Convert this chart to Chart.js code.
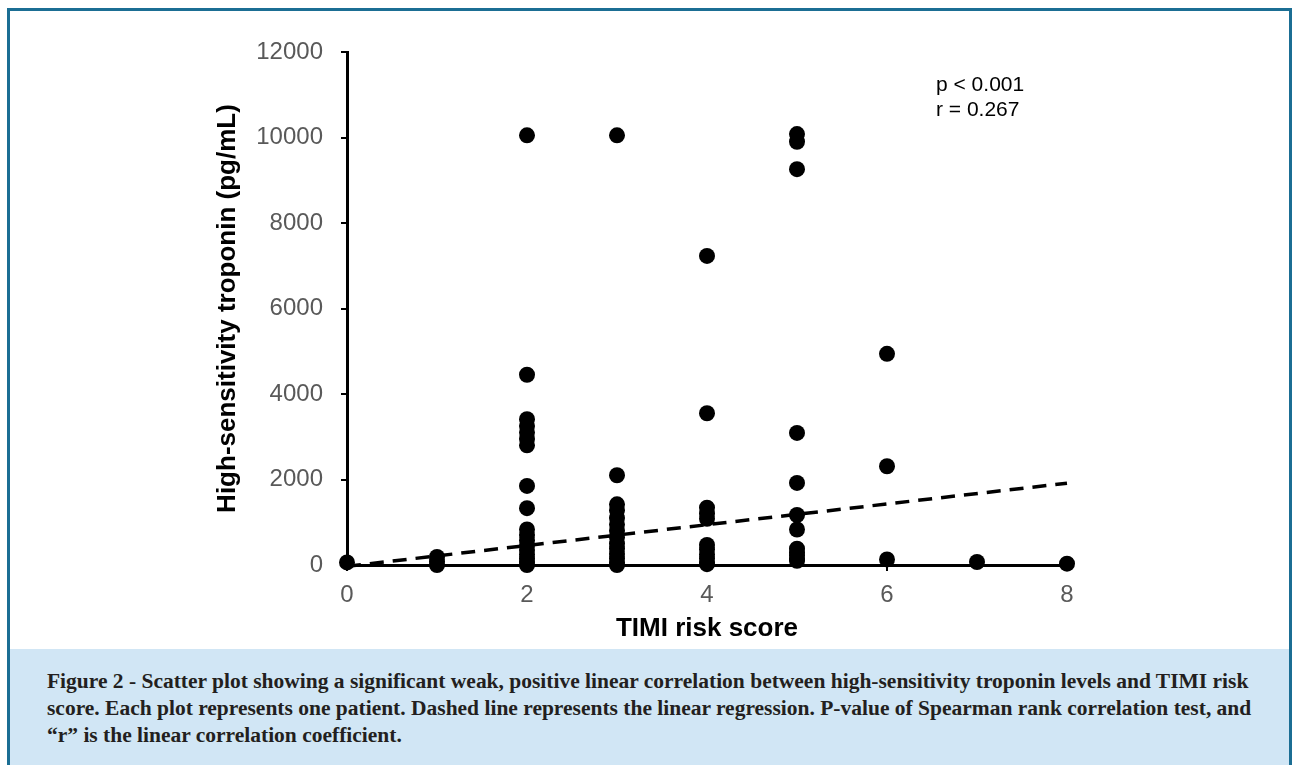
<!DOCTYPE html>
<html><head><meta charset="utf-8">
<script src="https://cdn.jsdelivr.net/npm/chart.js@4.4.1/dist/chart.umd.min.js"></script>
<style>
html,body{margin:0;padding:0;background:#fff;width:1296px;height:765px;overflow:hidden;}
#frame{position:absolute;left:7px;top:8px;width:1279px;height:800px;border:3px solid #1b6e94;border-bottom:none;}
#band{position:absolute;left:10px;top:649px;width:1279px;height:116px;background:#d1e6f5;}
#chartWrap{position:absolute;left:0;top:0;width:1296px;height:648px;}
.ann{position:absolute;left:936px;top:71px;font:21px/25px "Liberation Sans",Arial,sans-serif;color:#000;}
#caption{position:absolute;left:47px;top:668px;font-family:"Liberation Serif",serif;font-weight:bold;color:#231f20;}
#caption div{white-space:nowrap;height:27px;line-height:27px;}
</style>
</head><body>
<div id="frame"></div>
<div id="band"></div>
<div id="chartWrap"><canvas id="c" width="1296" height="648"></canvas></div>
<div class="ann">p &lt; 0.001<br>r = 0.267</div>
<div id="caption">
<div id="cap1">Figure 2 - Scatter plot showing a significant weak, positive linear correlation between high-sensitivity troponin levels and TIMI risk</div>
<div id="cap2">score. Each plot represents one patient. Dashed line represents the linear regression. P-value of Spearman rank correlation test, and</div>
<div id="cap3">“r” is the linear correlation coefficient.</div>
</div>
<script>
// TIMI risk score values and the troponin readings (pg/mL) of the patients at each score
const timiScores = [0, 1, 2, 3, 4, 5, 6, 7, 8];
const troponinScore0 = [60];
const troponinScore1 = [190, 80, 0];
const troponinScore2 = [10050, 4450, 3410, 3250, 3100, 2950, 2800, 1850, 1330, 830, 700, 580, 460, 350, 250, 150, 70, 0];
const troponinScore3 = [10050, 2100, 1420, 1280, 1100, 950, 800, 650, 500, 380, 260, 150, 60, 0];
const troponinScore4 = [7230, 3550, 1340, 1200, 1080, 470, 360, 250, 150, 60, 20];
const troponinScore5 = [10080, 9900, 9260, 3090, 1920, 1170, 830, 380, 300, 220, 140, 100];
const troponinScore6 = [4940, 2310, 130];
const troponinScore7 = [70];
const troponinScore8 = [30];
const troponinGroups = [troponinScore0, troponinScore1, troponinScore2, troponinScore3, troponinScore4,
                        troponinScore5, troponinScore6, troponinScore7, troponinScore8];
// Linear regression (dashed line)
const regressionIntercept = -30;
const regressionSlope = 243;
const regressionX = [0, 8];
// Axis ticks
const xTickLabels = [0, 2, 4, 6, 8];
const yTickLabels = [0, 2000, 4000, 6000, 8000, 10000, 12000];

const scatterPoints = [];
timiScores.forEach((s, i) => troponinGroups[i].forEach(v => scatterPoints.push({x: s, y: v})));
const regressionPoints = regressionX.map(x => ({x: x, y: regressionIntercept + regressionSlope * x}));

const tickFont = {family: '"Liberation Sans", Arial, sans-serif', size: 24};
const titleFont = {family: '"Liberation Sans", Arial, sans-serif', size: 26, weight: 'bold'};

new Chart(document.getElementById('c'), {
  type: 'scatter',
  data: {
    datasets: [
      {type: 'scatter', data: scatterPoints, pointRadius: 8, pointHoverRadius: 8,
       backgroundColor: '#000', borderColor: '#000', borderWidth: 0, clip: false, order: 2},
      {type: 'line', data: regressionPoints, borderColor: '#000', borderWidth: 3.5,
       borderDash: [14, 9], pointRadius: 0, fill: false, clip: false, order: 1}
    ]
  },
  options: {
    responsive: false, animation: false, devicePixelRatio: 1,
    layout: {padding: {left: 0, top: 52, right: 229, bottom: 0}},
    plugins: {legend: {display: false}, tooltip: {enabled: false}},
    scales: {
      x: {
        type: 'linear', min: 0, max: 8,
        afterBuildTicks: (sc) => { sc.ticks = xTickLabels.map(v => ({value: v})); },
        afterFit: (sc) => { sc.height = 83; },
        ticks: {color: '#595959', font: tickFont, padding: 10, callback: (v) => String(v)},
        grid: {drawOnChartArea: false, drawTicks: true, tickLength: 6, color: '#000', lineWidth: 2},
        border: {display: true, color: '#000', width: 3},
        title: {display: true, text: 'TIMI risk score', color: '#000', font: titleFont, padding: {top: 0, bottom: 4}}
      },
      y: {
        type: 'linear', min: 0, max: 12000,
        afterBuildTicks: (sc) => { sc.ticks = yTickLabels.map(v => ({value: v})); },
        afterFit: (sc) => { sc.width = 347; },
        ticks: {color: '#595959', font: tickFont, padding: 18, callback: (v) => String(v)},
        grid: {drawOnChartArea: false, drawTicks: true, tickLength: 6, color: '#000', lineWidth: 2},
        border: {display: true, color: '#000', width: 3},
        title: {display: true, text: 'High-sensitivity troponin (pg/mL)', color: '#000', font: titleFont, padding: {top: 212, bottom: 0}}
      }
    }
  }
});

// fit caption font so the first line spans the same width as in the figure
(function fitCaption(){
  const cv = document.createElement('canvas').getContext('2d');
  cv.font = 'bold 20px "Liberation Serif"';
  const w = cv.measureText(document.getElementById('cap1').textContent).width;
  const size = 20 * 1203 / w;
  document.getElementById('caption').style.fontSize = size.toFixed(2) + 'px';
})();
</script>
</body></html>
